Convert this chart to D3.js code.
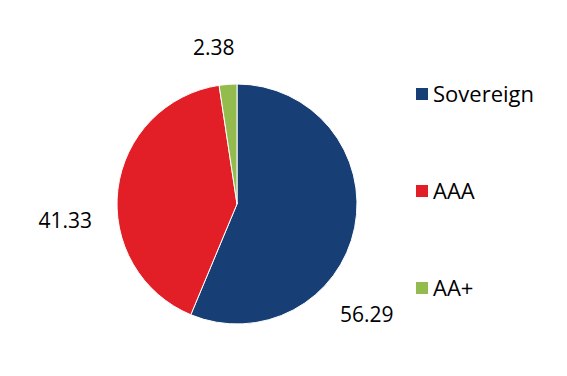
<!DOCTYPE html>
<html>
<head>
<meta charset="utf-8">
<script src="https://cdn.jsdelivr.net/npm/d3@7"></script>
<style>
  body { margin: 0; background: #fff; }
  text { font-family: "Open Sans", "Noto Sans", sans-serif; fill: #000; }
</style>
</head>
<body>
<svg id="chart"></svg>
<script>
var categories = ["Sovereign", "AAA", "AA+"];
var values = [56.29, 41.33, 2.38];
var colors = ["#173f75", "#e21f26", "#93bb4d"];

var width = 567, height = 376;
var cx = 237, cy = 204, radius = 120;

var svg = d3.select("#chart").attr("width", width).attr("height", height);

var data = categories.map(function(c, i) {
  return { name: c, value: values[i], color: colors[i] };
});

var pie = d3.pie().sort(null).value(function(d) { return d.value; });
var arcs = pie(data);
var arc = d3.arc().innerRadius(0).outerRadius(radius);

var g = svg.append("g").attr("transform", "translate(" + cx + "," + cy + ")");

g.selectAll("path.slice").data(arcs).enter().append("path")
  .attr("class", "slice")
  .attr("d", arc)
  .style("fill", function(d) { return d.data.color; })
  .style("stroke", "#fff")
  .style("stroke-width", 1);

// labels outside the pie, shifted like the spreadsheet's own best-fit placement
var labelArc = d3.arc().innerRadius(165).outerRadius(165);
var shift = function(i) {
  if (i === 0) return [-32, 86];
  if (i === 1) return [-8, 44];
  return [-11, 16];
};
g.selectAll("text.lbl").data(arcs).enter().append("text")
  .attr("class", "lbl")
  .attr("text-anchor", "middle")
  .attr("x", function(d, i) { return labelArc.centroid(d)[0] + shift(i)[0]; })
  .attr("y", function(d, i) { return labelArc.centroid(d)[1] + shift(i)[1]; })
  .style("font-size", "21px")
  .text(function(d) { return d.data.value.toFixed(2); });

// legend
var legendY = d3.scalePoint().domain(categories).range([95, 289]);
var legend = svg.append("g").attr("transform", "translate(416,0)");
var items = legend.selectAll("g").data(data).enter().append("g")
  .attr("transform", function(d) { return "translate(0," + legendY(d.name) + ")"; });
items.append("rect")
  .attr("x", 0).attr("y", -7).attr("width", 12).attr("height", 12)
  .style("fill", function(d) { return d.color; });
items.append("text")
  .attr("x", 17).attr("y", 7)
  .style("font-size", "22px")
  .text(function(d) { return d.name; });
</script>
</body>
</html>
